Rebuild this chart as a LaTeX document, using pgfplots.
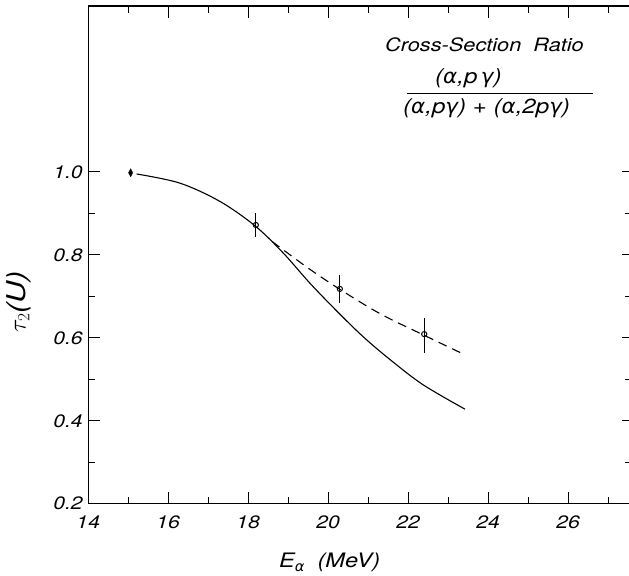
\documentclass[border=0pt]{standalone}
\usepackage{pgfplots}
\pgfplotsset{compat=1.18}
\usepackage{fontspec}
\setmainfont{TeX Gyre Heros}[FakeStretch=1.18]
\newfontfamily\gr{DejaVu Sans}[FakeStretch=1.05]
\begin{document}
\begin{tikzpicture}
\pgfplotsset{
  common/.style={
    scale only axis, width=541bp, height=498bp,
    xmin=14, xmax=27.52, ymin=0.2, ymax=1.4,
    tick align=inside,
    axis line style={line width=1.1bp,-},
    every tick/.style={line width=0.9bp, black},
  }
}
\begin{axis}[common, name=ax,
  axis x line*=box, axis y line*=left,
  clip=false,
  xtick={14,16,18,20,22,24,26},
  minor xtick={15,17,19,21,23,25,27},
  ytick={0.2,0.4,0.6,0.8,1.0},
  minor ytick={0.3,0.5,0.7,0.9},
  major tick length=12bp, minor tick length=7bp,
  /pgf/number format/assume math mode=true,
  ticklabel style={font=\fontsize{18}{20}\selectfont\itshape},
  xticklabel style={yshift=-9bp},
  yticklabel style={xshift=-2bp,/pgf/number format/.cd, fixed, fixed zerofill, precision=1},
]
% solid curve
\addplot[black, line width=1.1bp, smooth, tension=0.55] coordinates {
  (15.21,0.995) (16.29,0.973) (17.29,0.929) (18.17,0.870) (18.87,0.805)
  (19.54,0.732) (20.21,0.665) (20.87,0.603) (21.54,0.548) (22.37,0.487) (23.42,0.428)
};
% dashed curve
\addplot[black, line width=1.1bp, smooth, tension=0.55, dash pattern=on 9bp off 6bp] coordinates {
  (18.6,0.832) (19.5,0.768) (20.29,0.717) (21.3,0.658) (22.38,0.607) (23.42,0.559)
};
% diamond point
\addplot[only marks, mark=diamond*, mark size=4bp, mark options={xscale=0.7, fill=black}] coordinates {(15.06,0.998)};
% open circles with error bars
\addplot[only marks, mark=o, mark size=2.6bp, mark options={line width=1bp, fill=white},
  error bars/.cd, y dir=both, y explicit, error mark=none,
  error bar style={line width=1.1bp}] coordinates {
  (18.19,0.872) +- (0,0.029)
  (20.29,0.718) +- (0,0.033)
  (22.40,0.609) += (0,0.038) -= (0,0.046)
};
% annotation
\node[anchor=base west, inner sep=0pt, font=\fontsize{18.5}{20}\selectfont\itshape] at (axis cs:21.42,1.29) {Cross-Section\ \ Ratio};
\node[anchor=base west, inner sep=0pt, font=\fontsize{20.5}{22}\selectfont\itshape] at (axis cs:22.67,1.214) {({\gr\itshape α},p\,{\gr\itshape γ})};
\draw[line width=0.9bp] (axis cs:21.96,1.188) -- (axis cs:26.62,1.188);
\node[anchor=base west, inner sep=0pt, font=\fontsize{20.5}{22}\selectfont\itshape] at (axis cs:21.87,1.142) {({\gr\itshape α},p{\gr\itshape γ}) + ({\gr\itshape α},2p{\gr\itshape γ})};
% axis labels
\node[anchor=base west, inner sep=0pt, font=\fontsize{20}{22}\selectfont\itshape] at (axis cs:18.77,0.046) {E\raisebox{-0.35ex}{\fontsize{14}{16}\selectfont\gr\itshape α}\ \ (MeV)};
\node[rotate=90, font=\fontsize{26}{28}\selectfont\itshape] at (axis cs:12.27,0.687) {$\tau_2$(U)};
\end{axis}
\begin{axis}[common,
  axis x line=none, axis y line*=right,
  y axis line style={draw=none},
  ytick={0.4,0.6,0.8,1.0}, minor ytick={0.3,0.5,0.7,0.9},
  yticklabels={}, major tick length=7bp, minor tick length=4bp,
]
\end{axis}
\pgfresetboundingbox
\path ([shift={(-88.3bp,-72bp)}]ax.south west) rectangle ([shift={(0bp,6bp)}]ax.north east);
\end{tikzpicture}
\end{document}
